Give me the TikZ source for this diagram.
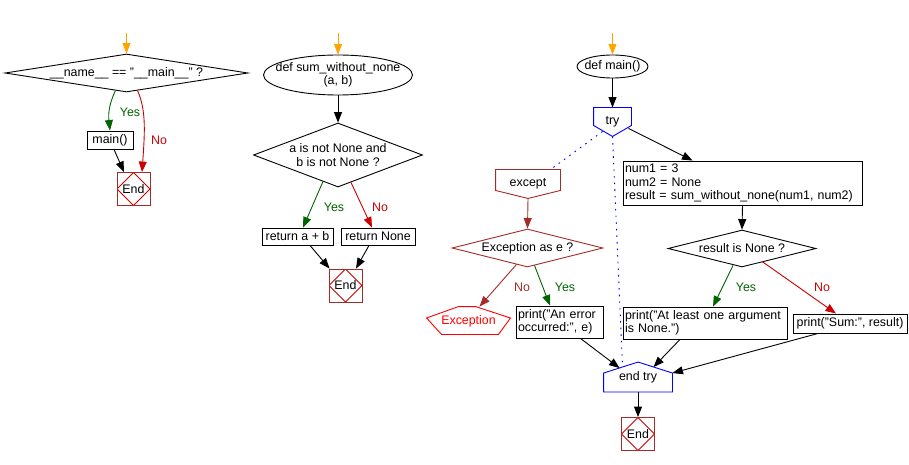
\documentclass[tikz,border=0pt]{standalone}
\usepackage{fontspec}
\setmainfont{Liberation Sans}
\usetikzlibrary{shapes.geometric,arrows.meta,calc}

\definecolor{yesgreen}{HTML}{006400}
\definecolor{nored}{HTML}{CC0000}
\definecolor{excbrown}{HTML}{A52A2A}
\definecolor{startorange}{HTML}{FFA500}
\definecolor{tryblue}{HTML}{0000FF}

\tikzset{
  arr/.style={-{Triangle[length=10.5pt,width=8pt]}},
  procbox/.style={draw, rectangle, inner sep=0pt},
  decision/.style={draw, diamond, inner sep=0pt},
  terminal/.style={draw, ellipse, inner sep=0pt},
  shapebox/.style={inner sep=0pt},
  endbox/.style={draw=excbrown, minimum size=33pt, inner sep=0pt,
    path picture={\draw[nored]
      (path picture bounding box.north) -- (path picture bounding box.east) --
      (path picture bounding box.south) -- (path picture bounding box.west) -- cycle;}},
  trydots/.style={tryblue, dash pattern=on 1.6pt off 5pt},
}

\begin{document}
\begin{tikzpicture}[x=1pt, y=-1pt, line width=0.9pt, font=\fontsize{12.4}{13.5}\selectfont]
\useasboundingbox (0,0) rectangle (909,465);

% if __name__ == "__main__"
\coordinate (start1) at (126.5,33);
\node[decision, minimum width=243, minimum height=38] (ifmain) at (126.5,73) {};
\node at (ifmain) {\_\_name\_\_ == "\_\_main\_\_" ?};
\node[procbox, minimum width=46, minimum height=18] (callmain) at (110,140) {main()};
\node[endbox] (end1) at (133.5,189) {End};
\draw[startorange, arr] (start1) -- (ifmain.north);
\draw[yesgreen, arr] ($(ifmain.south)+(-11,-2)$) .. controls (110,102) and (108,112) .. (callmain.north);
\draw[nored, arr] ($(ifmain.south)+(11,-2)$) .. controls (146,110) and (145,130) .. ($(end1.north)+(8.5,0)$);
\draw[arr] ($(callmain.south)+(4,0)$) -- ($(end1.north)+(-9.5,0)$);
\node[yesgreen] at (130,112) {Yes};
\node[nored] at (159,140) {No};

% def sum_without_none(a, b)
\coordinate (start2) at (338,33);
\node[terminal, minimum width=149, minimum height=40] (defsum) at (338,75) {};
\node[align=center] at (defsum) {def sum\_without\_none\\(a, b)};
\node[decision, minimum width=169, minimum height=64] (notnone) at (338,155) {};
\node[align=center] at (notnone) {a is not None and\\b is not None ?};
\node[procbox, minimum width=71, minimum height=17] (retsum) at (297.5,236.5) {return a + b};
\node[procbox, minimum width=74, minimum height=17] (retnone) at (378,236.5) {return None};
\node[endbox] (end2) at (345.5,285.5) {End};
\draw[startorange, arr] (start2) -- (defsum.north);
\draw[arr] (defsum.south) -- (notnone.north);
\draw[yesgreen, arr] ($(notnone.south)+(-15,-6)$) -- ($(retsum.north)+(5.5,0)$);
\draw[nored, arr] ($(notnone.south)+(13,-5)$) -- ($(retnone.north)+(-6,0)$);
\draw[arr] ($(retsum.south)+(12.5,0)$) -- ($(end2.north west)+(1,0)$);
\draw[arr] ($(retnone.south)+(-9,0)$) -- ($(end2.north)+(10.5,0)$);
\node[yesgreen] at (334,207) {Yes};
\node[nored] at (380,207) {No};

% def main()
\coordinate (start3) at (612.5,33);
\node[terminal, minimum width=71, minimum height=23] (defmain) at (612.5,66.5) {};
\node at (defmain) {def main()};
\node[shapebox, minimum width=37, minimum height=28] (try) at (612.5,122) {try};
\draw[tryblue] (try.north west) -- (try.north east) -- ($(try.south east)+(0,-11)$)
  -- (try.south) -- ($(try.south west)+(0,-11)$) -- cycle;
\node[procbox, minimum width=239, minimum height=44, text width=235, align=left] (assign) at (742.5,183)
  {num1 = 3\\num2 = None\\result = sum\_without\_none(num1, num2)};
\node[decision, minimum width=148, minimum height=37] (isnone) at (742,248.5) {};
\node at (isnone) {result is None ?};
\node[procbox, minimum width=164, minimum height=32, text width=160, align=left] (printnone) at (705,323)
  {print("At least one argument\\is None.")};
\node[procbox, minimum width=114, minimum height=19] (printsum) at (850,323.5) {print("Sum:", result)};

\node[shapebox, minimum width=64, minimum height=28] (except) at (528,184) {except};
\draw[excbrown] (except.north west) -- (except.north east) -- ($(except.south east)+(0,-8)$)
  -- (except.south) -- ($(except.south west)+(0,-8)$) -- cycle;
\node[decision, draw=excbrown, minimum width=151, minimum height=38] (ase) at (527.5,248) {};
\node at (ase) {Exception as e ?};
\node[shapebox, minimum width=83, minimum height=28, text=red] (exc) at (468.5,321) {Exception};
\draw[red] ($(exc.north)+(-10,0)$) -- ($(exc.north)+(7,0)$) -- ($(exc.east)+(0,-3)$)
  -- ($(exc.south east)+(-12,-1)$) -- ($(exc.south west)+(15,-1)$) -- ($(exc.west)+(0,-3)$) -- cycle;
\node[procbox, minimum width=87, minimum height=32, text width=83, align=left] (printerr) at (559.5,322)
  {print("An error\\occurred:", e)};

\node[shapebox, minimum width=68, minimum height=29] (endtry) at (638,377) {end try};
\draw[tryblue] (endtry.south west) -- ($(endtry.north west)+(0,11)$) -- (endtry.north)
  -- ($(endtry.north east)+(0,11)$) -- (endtry.south east) -- cycle;
\node[endbox] (end3) at (638,434) {End};

\draw[startorange, arr] (start3) -- (defmain.north);
\draw[arr] (defmain.south) -- (try.north);
\draw[arr] ($(try.south east)+(-3,-8)$) -- ($(assign.north west)+(70,0)$);
\draw[trydots] ($(try.south west)+(9,-5)$) -- ($(except.north east)+(-10,0)$);
\draw[trydots] (try.south) -- ($(endtry.north west)+(19,5)$);
\draw[excbrown, arr] (except.south) -- (ase.north);
\draw[excbrown, arr] ($(ase.south)+(-11,-3)$) -- ($(exc.north)+(11,0)$);
\draw[yesgreen, arr] ($(ase.south)+(7,-2)$) -- ($(printerr.north)+(-9.5,0)$);
\node[excbrown] at (522,287) {No};
\node[yesgreen] at (565,287) {Yes};
\draw[arr] (assign.south) -- (isnone.north);
\draw[yesgreen, arr] ($(isnone.south)+(-9,-2)$) -- ($(printnone.north)+(8,0)$);
\draw[nored, arr] ($(isnone.south)+(20,-6)$) -- ($(printsum.north)+(-14,0)$);
\node[yesgreen] at (746,287) {Yes};
\node[nored] at (822,287) {No};
\draw[arr] ($(printerr.south)+(21,0)$) -- ($(endtry.north west)+(16,6)$);
\draw[arr] ($(printnone.south)+(-25,0)$) -- ($(endtry.north east)+(-19,5)$);
\draw[arr] ($(printsum.south)+(-32,0)$) -- ($(endtry.north east)+(0,11)$);
\draw[arr] (endtry.south) -- (end3.north);
\end{tikzpicture}
\end{document}
